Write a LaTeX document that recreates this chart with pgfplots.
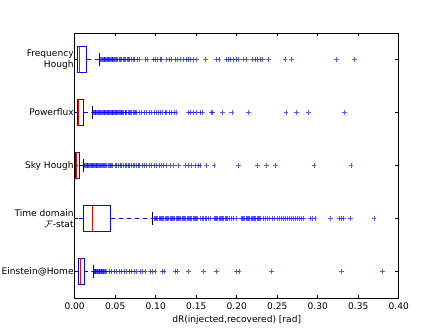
\documentclass[border=0pt]{standalone}
\usepackage{fontspec}
\setmainfont{DejaVu Sans}
\usepackage{pgfplots}
\pgfplotsset{compat=1.18}
\usepgfplotslibrary{statistics}
\definecolor{mplblue}{rgb}{0,0,1}
\definecolor{mplred}{rgb}{1,0,0}

\pgfplotsset{
  mplbox/.style={
    mplblue, line width=0.75pt,
    mark=+, mark size=1.8pt,
    mark options={mplblue, opacity=0.65, line width=0.5pt, solid},
  },
}

\begin{document}
\begin{tikzpicture}
\useasboundingbox (-56pt,-25.5pt) rectangle (276.2pt,223.5pt);
\begin{axis}[
  scale only axis,
  width=243pt, height=198.75pt,
  xmin=0, xmax=0.4, ymin=0.5, ymax=5.5,
  xtick={0,0.05,0.1,0.15,0.2,0.25,0.3,0.35,0.4},
  scaled x ticks=false,
  /pgf/number format/fixed,
  /pgf/number format/fixed zerofill,
  /pgf/number format/precision=2,
  /pgf/number format/assume math mode=true,
  ytick={1,2,3,4,5},
  yticklabels={{Einstein@Home},{Time domain\\$\mathcal{F}$-stat},{Sky Hough},{Powerflux},{Frequency\\Hough}},
  yticklabel style={align=right, inner xsep=0.6pt},
  tick label style={font=\fontsize{6.8}{7.8}\selectfont},
  label style={font=\fontsize{6.8}{7.8}\selectfont},
  xlabel={dR(injected,recovered) [rad]},
  xlabel style={yshift=2pt},
  tick align=inside,
  major tick length=2.5pt,
  tick style={black, line width=0.5pt},
  axis line style={line width=0.7pt},
  boxplot/box extend=0.5,
  boxplot/whisker extend=0.25,
  boxplot/draw/box/.code={%
    \draw[mplblue, line width=0.75pt]
      (boxplot box cs:\pgfplotsboxplotvalue{lower quartile},0) rectangle
      (boxplot box cs:\pgfplotsboxplotvalue{upper quartile},1);
  },
  boxplot/draw/median/.code={%
    \draw[mplred, line width=0.75pt]
      (boxplot box cs:\pgfplotsboxplotvalue{median},0) --
      (boxplot box cs:\pgfplotsboxplotvalue{median},1);
  },
  boxplot/draw/lower whisker/.code={%
    \draw[mplblue, dash pattern=on 3pt off 3pt, line width=0.75pt]
      (boxplot box cs:\pgfplotsboxplotvalue{lower quartile},0.5) --
      (boxplot box cs:\pgfplotsboxplotvalue{lower whisker},0.5);
    \draw[black, line width=0.7pt]
      (boxplot whisker cs:\pgfplotsboxplotvalue{lower whisker},0) --
      (boxplot whisker cs:\pgfplotsboxplotvalue{lower whisker},1);
  },
  boxplot/draw/upper whisker/.code={%
    \draw[mplblue, dash pattern=on 3pt off 3pt, line width=0.75pt]
      (boxplot box cs:\pgfplotsboxplotvalue{upper quartile},0.5) --
      (boxplot box cs:\pgfplotsboxplotvalue{upper whisker},0.5);
    \draw[black, line width=0.7pt]
      (boxplot whisker cs:\pgfplotsboxplotvalue{upper whisker},0) --
      (boxplot whisker cs:\pgfplotsboxplotvalue{upper whisker},1);
  },
]

% Frequency Hough
\addplot[mplbox, boxplot prepared={draw position=5,
  lower whisker=0, lower quartile=0.0033, median=0.0065,
  upper quartile=0.0148, upper whisker=0.0304}]
  coordinates {(0,0.032) (0,0.033) (0,0.034) (0,0.035) (0,0.036) (0,0.037)
  (0,0.038) (0,0.039) (0,0.040) (0,0.041) (0,0.042) (0,0.043) (0,0.044)
  (0,0.045) (0,0.046) (0,0.047) (0,0.048) (0,0.049) (0,0.050) (0,0.052)
  (0,0.053) (0,0.055) (0,0.056) (0,0.058) (0,0.060) (0,0.061) (0,0.063)
  (0,0.065) (0,0.066) (0,0.068) (0,0.070) (0,0.072) (0,0.074) (0,0.077)
  (0,0.080) (0,0.0868) (0,0.0897) (0,0.097) (0,0.099) (0,0.102) (0,0.1053)
  (0,0.1074) (0,0.1135) (0,0.1168) (0,0.1197) (0,0.1238) (0,0.1267)
  (0,0.130) (0,0.1341) (0,0.1374) (0,0.1403) (0,0.1432) (0,0.1465)
  (0,0.1506) (0,0.1617) (0,0.1753) (0,0.1782) (0,0.1868) (0,0.1897)
  (0,0.1926) (0,0.1959) (0,0.1992) (0,0.202) (0,0.2082) (0,0.2123)
  (0,0.2197) (0,0.2226) (0,0.2255) (0,0.2288) (0,0.2317) (0,0.2391)
  (0,0.2596) (0,0.2679) (0,0.3235) (0,0.3452)};

% Powerflux
\addplot[mplbox, boxplot prepared={draw position=4,
  lower whisker=0, lower quartile=0.0033, median=0.0053,
  upper quartile=0.0115, upper whisker=0.0218}]
  coordinates {(0,0.023) (0,0.024) (0,0.025) (0,0.026) (0,0.027) (0,0.028)
  (0,0.029) (0,0.030) (0,0.031) (0,0.032) (0,0.033) (0,0.034) (0,0.035)
  (0,0.036) (0,0.037) (0,0.038) (0,0.039) (0,0.040) (0,0.041) (0,0.042)
  (0,0.043) (0,0.044) (0,0.045) (0,0.046) (0,0.047) (0,0.048) (0,0.049)
  (0,0.050) (0,0.051) (0,0.052) (0,0.053) (0,0.054) (0,0.055) (0,0.056)
  (0,0.057) (0,0.058) (0,0.059) (0,0.060) (0,0.062) (0,0.063) (0,0.064)
  (0,0.066) (0,0.067) (0,0.069) (0,0.070) (0,0.072) (0,0.074) (0,0.075)
  (0,0.0765) (0,0.0795) (0,0.0827) (0,0.0856) (0,0.0889) (0,0.0921)
  (0,0.095) (0,0.0979) (0,0.1012) (0,0.1033) (0,0.1053) (0,0.1086)
  (0,0.1115) (0,0.1135) (0,0.1168) (0,0.1197) (0,0.1226) (0,0.1251)
  (0,0.1403) (0,0.1432) (0,0.1465) (0,0.1506) (0,0.1547) (0,0.158)
  (0,0.169) (0,0.1703) (0,0.1827) (0,0.194) (0,0.2144) (0,0.2609)
  (0,0.274) (0,0.2885) (0,0.333)};

% Sky Hough
\addplot[mplbox, boxplot prepared={draw position=3,
  lower whisker=0, lower quartile=0.0012, median=0.0024,
  upper quartile=0.0057, upper whisker=0.0107}]
  coordinates {(0,0.0112) (0,0.0122) (0,0.0132) (0,0.0142) (0,0.0152)
  (0,0.0162) (0,0.0172) (0,0.0182) (0,0.0192) (0,0.0202) (0,0.0212)
  (0,0.0222) (0,0.0232) (0,0.0242) (0,0.0252) (0,0.0262) (0,0.0272)
  (0,0.0282) (0,0.0292) (0,0.0302) (0,0.0315) (0,0.0328) (0,0.0341)
  (0,0.0354) (0,0.0367) (0,0.038) (0,0.0395) (0,0.041) (0,0.0425)
  (0,0.044) (0,0.0455) (0,0.047) (0,0.050) (0,0.052) (0,0.054) (0,0.056)
  (0,0.058) (0,0.060) (0,0.062) (0,0.064) (0,0.066) (0,0.068) (0,0.070)
  (0,0.072) (0,0.074) (0,0.076) (0,0.078) (0,0.080) (0,0.083) (0,0.086)
  (0,0.089) (0,0.092) (0,0.095) (0,0.098) (0,0.101) (0,0.104) (0,0.107)
  (0,0.110) (0,0.113) (0,0.1176) (0,0.1218) (0,0.128) (0,0.1362)
  (0,0.1403) (0,0.1444) (0,0.1485) (0,0.1526) (0,0.1547) (0,0.163)
  (0,0.172) (0,0.202) (0,0.2259) (0,0.237) (0,0.248) (0,0.2954) (0,0.341)};

% Time domain F-stat
\addplot[mplbox, boxplot prepared={draw position=2,
  lower whisker=0, lower quartile=0.0107, median=0.0218,
  upper quartile=0.0448, upper whisker=0.0963}]
  coordinates {(0,0.098) (0,0.0995) (0,0.101) (0,0.1025) (0,0.104)
  (0,0.1055) (0,0.107) (0,0.1085) (0,0.110) (0,0.1115) (0,0.113)
  (0,0.1145) (0,0.116) (0,0.1175) (0,0.119) (0,0.1205) (0,0.122)
  (0,0.1235) (0,0.125) (0,0.1265) (0,0.128) (0,0.1295) (0,0.131)
  (0,0.1325) (0,0.134) (0,0.1355) (0,0.137) (0,0.1385) (0,0.140)
  (0,0.1415) (0,0.143) (0,0.1445) (0,0.146) (0,0.1475) (0,0.149)
  (0,0.1505) (0,0.152) (0,0.155) (0,0.157) (0,0.159) (0,0.161) (0,0.163)
  (0,0.1655) (0,0.1675) (0,0.172) (0,0.1735) (0,0.175) (0,0.1765)
  (0,0.178) (0,0.1795) (0,0.181) (0,0.1825) (0,0.184) (0,0.1855)
  (0,0.187) (0,0.188) (0,0.1905) (0,0.1935) (0,0.196) (0,0.1995)
  (0,0.2053) (0,0.207) (0,0.2085) (0,0.210) (0,0.2115) (0,0.213)
  (0,0.2145) (0,0.216) (0,0.2175) (0,0.219) (0,0.2205) (0,0.222)
  (0,0.2235) (0,0.225) (0,0.2265) (0,0.228) (0,0.2295) (0,0.233)
  (0,0.2355) (0,0.238) (0,0.2405) (0,0.2445) (0,0.247) (0,0.250)
  (0,0.2525) (0,0.255) (0,0.2575) (0,0.260) (0,0.2625) (0,0.265)
  (0,0.2675) (0,0.270) (0,0.2725) (0,0.275) (0,0.2775) (0,0.280)
  (0,0.2823) (0,0.2905) (0,0.2938) (0,0.2967) (0,0.3156) (0,0.327)
  (0,0.3295) (0,0.332) (0,0.340) (0,0.3695)};

% Einstein@Home
\addplot[mplbox, boxplot prepared={draw position=1,
  lower whisker=0, lower quartile=0.0045, median=0.007,
  upper quartile=0.0119, upper whisker=0.023}]
  coordinates {(0,0.0237) (0,0.0245) (0,0.0253) (0,0.0261) (0,0.0269)
  (0,0.0277) (0,0.0285) (0,0.0293) (0,0.0301) (0,0.0309) (0,0.0317)
  (0,0.0325) (0,0.0333) (0,0.0341) (0,0.0349) (0,0.0357) (0,0.0365)
  (0,0.0374) (0,0.0395) (0,0.0428) (0,0.0457) (0,0.0485) (0,0.0518)
  (0,0.0551) (0,0.058) (0,0.0609) (0,0.0642) (0,0.0674) (0,0.0703)
  (0,0.0732) (0,0.0765) (0,0.0806) (0,0.0839) (0,0.0868) (0,0.093)
  (0,0.0963) (0,0.0991) (0,0.1086) (0,0.1102) (0,0.1238) (0,0.1267)
  (0,0.1403) (0,0.1588) (0,0.1753) (0,0.2) (0,0.2029) (0,0.2432)
  (0,0.3296) (0,0.38)};

\end{axis}
\end{tikzpicture}
\end{document}
